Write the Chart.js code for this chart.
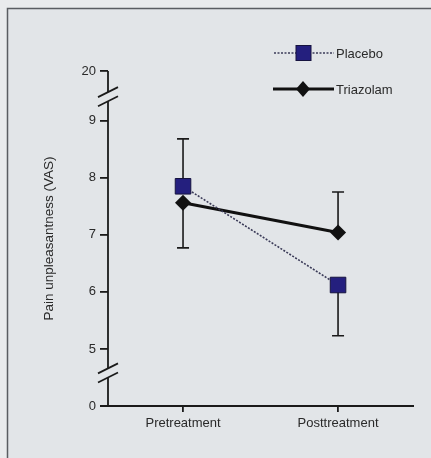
<!DOCTYPE html>
<html>
<head>
<meta charset="utf-8">
<script src="https://cdn.jsdelivr.net/npm/chart.js@4/dist/chart.umd.min.js"></script>
<style>
  html, body { margin: 0; padding: 0; background: #e9ebed; }
  canvas { display: block; }
</style>
</head>
<body>
<canvas id="c" width="431" height="458"></canvas>
<script>
// Time points on the x axis
const categories = ['Pretreatment', 'Posttreatment'];

// Mean pain unpleasantness (VAS)
const placeboMeans = [7.85, 6.12];
const triazolamMeans = [7.56, 7.04];

// Error bar end points (one-sided bars)
const placeboBarEnds = [8.68, 5.23];
const triazolamBarEnds = [6.77, 7.75];

// Broken y axis: "0" and "20" sit just beyond the 5–9 segment
const yTickLabels = ['0', '5', '6', '7', '8', '9', '20'];
const yTickPositions = [4, 5, 6, 7, 8, 9, 9.87];
// Where the axis is broken (axis units): [upper slash, lower slash]
const topBreak = [9.5, 9.34];
const bottomBreak = [4.66, 4.5];

const FONT = '"Liberation Sans", Arial, Helvetica, sans-serif';
const TEXT = '#2a2a2a';
const INK = '#1a1a1a';

const seriesStyles = {
  placebo: { line: '#3b3b58', fill: '#241f7e', edge: '#16133f' },
  triazolam: { line: '#111111', fill: '#111111' }
};

const background = {
  id: 'background',
  beforeDraw(chart) {
    const ctx = chart.ctx;
    ctx.save();
    ctx.fillStyle = '#e9ebed';
    ctx.fillRect(0, 0, chart.width, chart.height);
    ctx.fillStyle = '#e2e5e8';
    ctx.fillRect(8, 9, chart.width - 8, chart.height - 9);
    ctx.strokeStyle = '#5a5d62';
    ctx.lineWidth = 1.5;
    ctx.beginPath();
    ctx.moveTo(7.5, chart.height);
    ctx.lineTo(7.5, 8.5);
    ctx.lineTo(chart.width, 8.5);
    ctx.stroke();
    ctx.restore();
  }
};

const brokenAxes = {
  id: 'brokenAxes',
  beforeDatasetsDraw(chart) {
    const ctx = chart.ctx;
    const ys = chart.scales.y;
    const xs = chart.scales.x;
    const a = chart.chartArea;
    const x = a.left;
    ctx.save();
    ctx.strokeStyle = INK;
    ctx.lineWidth = 1.8;
    ctx.lineCap = 'butt';
    const seg = (v0, v1) => {
      ctx.beginPath();
      ctx.moveTo(x, ys.getPixelForValue(v0));
      ctx.lineTo(x, ys.getPixelForValue(v1));
      ctx.stroke();
    };
    seg(ys.max, topBreak[0]);
    seg(topBreak[1], bottomBreak[0]);
    seg(bottomBreak[1], ys.min);
    [...topBreak, ...bottomBreak].forEach(v => {
      const y = ys.getPixelForValue(v);
      ctx.beginPath();
      ctx.moveTo(x - 10, y + 5);
      ctx.lineTo(x + 10, y - 5);
      ctx.stroke();
    });
    // x axis line
    ctx.beginPath();
    ctx.moveTo(x - 8, a.bottom);
    ctx.lineTo(a.right, a.bottom);
    ctx.stroke();

    // error bars
    const bars = [
      [placeboMeans, placeboBarEnds],
      [triazolamMeans, triazolamBarEnds]
    ];
    ctx.lineWidth = 1.6;
    bars.forEach(([means, ends]) => {
      means.forEach((m, i) => {
        const px = xs.getPixelForValue(i);
        const y0 = ys.getPixelForValue(m);
        const y1 = ys.getPixelForValue(ends[i]);
        ctx.beginPath();
        ctx.moveTo(px, y0);
        ctx.lineTo(px, y1);
        ctx.moveTo(px - 6, y1);
        ctx.lineTo(px + 6, y1);
        ctx.stroke();
      });
    });
    ctx.restore();
  }
};

const customLegend = {
  id: 'customLegend',
  afterDraw(chart) {
    const ctx = chart.ctx;
    ctx.save();
    ctx.font = '13px ' + FONT;
    ctx.fillStyle = TEXT;
    ctx.textBaseline = 'middle';

    // Placebo row
    let y = 53;
    ctx.strokeStyle = seriesStyles.placebo.line;
    ctx.lineWidth = 1.6;
    ctx.setLineDash([2, 1.5]);
    ctx.beginPath();
    ctx.moveTo(274, y);
    ctx.lineTo(334, y);
    ctx.stroke();
    ctx.setLineDash([]);
    ctx.fillStyle = seriesStyles.placebo.fill;
    ctx.strokeStyle = seriesStyles.placebo.edge;
    ctx.lineWidth = 1;
    ctx.fillRect(296, y - 7.5, 15, 15);
    ctx.strokeRect(296, y - 7.5, 15, 15);
    ctx.fillStyle = TEXT;
    ctx.fillText('Placebo', 336, y + 1);

    // Triazolam row
    y = 89;
    ctx.strokeStyle = seriesStyles.triazolam.line;
    ctx.lineWidth = 3;
    ctx.beginPath();
    ctx.moveTo(273, y);
    ctx.lineTo(334, y);
    ctx.stroke();
    ctx.fillStyle = seriesStyles.triazolam.fill;
    ctx.beginPath();
    ctx.moveTo(303, y - 8);
    ctx.lineTo(310, y);
    ctx.lineTo(303, y + 8);
    ctx.lineTo(296, y);
    ctx.closePath();
    ctx.fill();
    ctx.fillStyle = TEXT;
    ctx.fillText('Triazolam', 336, y + 1);
    ctx.restore();
  }
};

const toPoints = arr => arr.map((v, i) => ({ x: i, y: v }));

new Chart(document.getElementById('c'), {
  type: 'line',
  data: {
    datasets: [
      {
        label: 'Placebo',
        data: toPoints(placeboMeans),
        borderColor: seriesStyles.placebo.line,
        borderWidth: 1.6,
        borderDash: [2, 1.5],
        pointStyle: 'rect',
        pointRadius: 11,
        pointBackgroundColor: seriesStyles.placebo.fill,
        pointBorderColor: seriesStyles.placebo.edge,
        pointBorderWidth: 1,
        tension: 0
      },
      {
        label: 'Triazolam',
        data: toPoints(triazolamMeans),
        borderColor: seriesStyles.triazolam.line,
        borderWidth: 3,
        pointStyle: 'rectRot',
        pointRadius: 8,
        pointBackgroundColor: seriesStyles.triazolam.fill,
        pointBorderColor: seriesStyles.triazolam.fill,
        pointBorderWidth: 0,
        tension: 0
      }
    ]
  },
  options: {
    responsive: false,
    animation: false,
    devicePixelRatio: 1,
    layout: { padding: { top: 71, right: 17, left: 0, bottom: 0 } },
    plugins: {
      legend: { display: false },
      tooltip: { enabled: false }
    },
    scales: {
      x: {
        type: 'linear',
        min: -0.484,
        max: 1.49,
        afterBuildTicks(scale) {
          scale.ticks = categories.map((c, i) => ({ value: i }));
        },
        afterFit(scale) { scale.height = 52; },
        ticks: {
          callback: v => categories[v],
          color: TEXT,
          font: { family: FONT, size: 13 },
          padding: 4,
          maxRotation: 0,
          autoSkip: false
        },
        grid: {
          drawOnChartArea: false,
          drawTicks: true,
          tickLength: 6,
          color: INK,
          lineWidth: 1.8
        },
        border: { display: false }
      },
      y: {
        type: 'linear',
        min: 4,
        max: 9.87,
        afterBuildTicks(scale) {
          scale.ticks = yTickPositions.map(v => ({ value: v }));
        },
        afterFit(scale) { scale.width = 108; },
        ticks: {
          callback: (v, i) => yTickLabels[i],
          color: TEXT,
          font: { family: FONT, size: 13 },
          padding: 4,
          autoSkip: false
        },
        grid: {
          drawOnChartArea: false,
          drawTicks: true,
          tickLength: 8,
          color: INK,
          lineWidth: 1.8
        },
        border: { display: false },
        title: {
          display: true,
          text: 'Pain unpleasantness (VAS)',
          color: TEXT,
          font: { family: FONT, size: 13.5 },
          padding: { top: 41, bottom: 0 }
        }
      }
    }
  },
  plugins: [background, brokenAxes, customLegend]
});
</script>
</body>
</html>
